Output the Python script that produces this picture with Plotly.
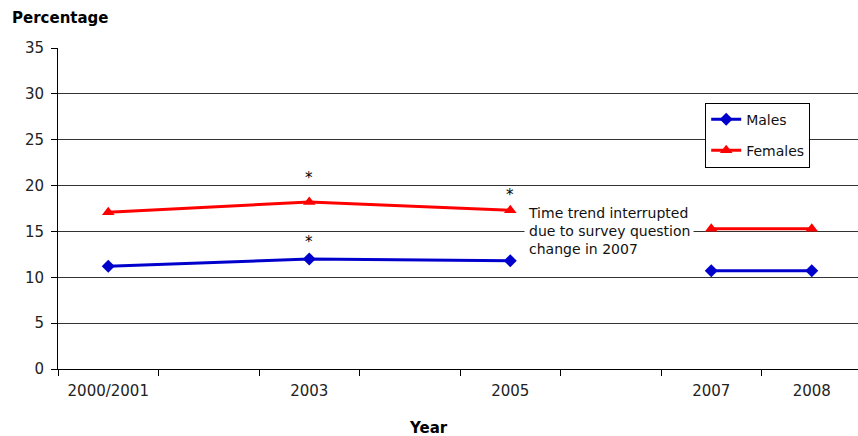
import plotly.graph_objects as go

# ---- data ----
categories = ["2000/2001", "2002", "2003", "2004", "2005", "2006", "2007", "2008"]
tick_labels = ["2000/2001", "", "2003", "", "2005", "", "2007", "2008"]
years = ["2000/2001", "2003", "2005", "2007", "2008"]
males = [11.2, 12.0, 11.8, 10.7, 10.7]
females = [17.1, 18.2, 17.3, 15.3, 15.3]
# survey question change: trend broken between index 2 and 3
break_at = 3
# significance markers: (series, year, pixel offset above point)
stars = [("Females", "2003", 24), ("Males", "2003", 17), ("Females", "2005", 15)]
note_lines = ["Time trend interrupted", "due to survey question", "change in 2007"]

BLUE = "#0000CC"
RED = "#FF0000"
FONT = "DejaVu Sans, Arial, sans-serif"

fig = go.Figure()
series = [("Males", males, BLUE, "diamond", 10), ("Females", females, RED, "triangle-up", 11)]
for name, vals, color, sym, msize in series:
    for i, (xs, ys) in enumerate([(years[:break_at], vals[:break_at]), (years[break_at:], vals[break_at:])]):
        fig.add_trace(go.Scatter(
            x=xs, y=ys, name=name, mode="lines+markers",
            legendgroup=name, showlegend=(i == 0),
            line=dict(color=color, width=3),
            marker=dict(symbol=sym, size=msize, color=color),
        ))

vals_by_name = {"Males": males, "Females": females}
for name, yr, shift in stars:
    fig.add_annotation(x=categories.index(yr), y=vals_by_name[name][years.index(yr)], text="*",
                       xref="x", yref="y", showarrow=False, yshift=shift,
                       font=dict(size=15, color="#000", family=FONT))

fig.add_annotation(x=4.14, y=15, xref="x", yref="y", text="<br>".join(note_lines), showarrow=False,
                   xanchor="left", yanchor="middle", align="left", bgcolor="white",
                   borderpad=3,
                   font=dict(size=14, color="#111", family=FONT))

fig.add_annotation(x=-0.06, y=1.094, xref="paper", yref="paper", text="<b>Percentage</b>",
                   showarrow=False, xanchor="left", yanchor="middle",
                   font=dict(size=15, color="#000", family=FONT))
fig.add_annotation(x=0.4625, y=-0.185, xref="paper", yref="paper", text="<b>Year</b>",
                   showarrow=False, xanchor="center", yanchor="middle",
                   font=dict(size=15, color="#000", family=FONT))

fig.update_layout(
    width=858, height=436,
    margin=dict(l=58, r=0, t=48, b=67),
    paper_bgcolor="white", plot_bgcolor="white",
    font=dict(family=FONT, color="#222"),
    legend=dict(x=0.809, y=0.83, xanchor="left", yanchor="top",
                bgcolor="white", bordercolor="#000", borderwidth=1,
                font=dict(size=14, color="#111", family=FONT), itemwidth=30),
    xaxis=dict(type="category", categoryorder="array", categoryarray=categories,
               tickvals=categories, ticktext=tick_labels, tickson="boundaries",
               range=[-0.5, 7.46], showgrid=False, showline=True, linecolor="#000", linewidth=1,
               ticks="outside", ticklen=6, tickcolor="#000", ticklabelstandoff=8,
               tickfont=dict(size=15, color="#222", family=FONT)),
    yaxis=dict(range=[0, 35], dtick=5, showgrid=True, gridcolor="#333", gridwidth=1,
               showline=True, linecolor="#000", linewidth=1, zeroline=False,
               ticks="outside", ticklen=6, tickcolor="#000", ticklabelstandoff=4,
               tickfont=dict(size=15, color="#222", family=FONT)),
)

fig.write_html("out.html")
